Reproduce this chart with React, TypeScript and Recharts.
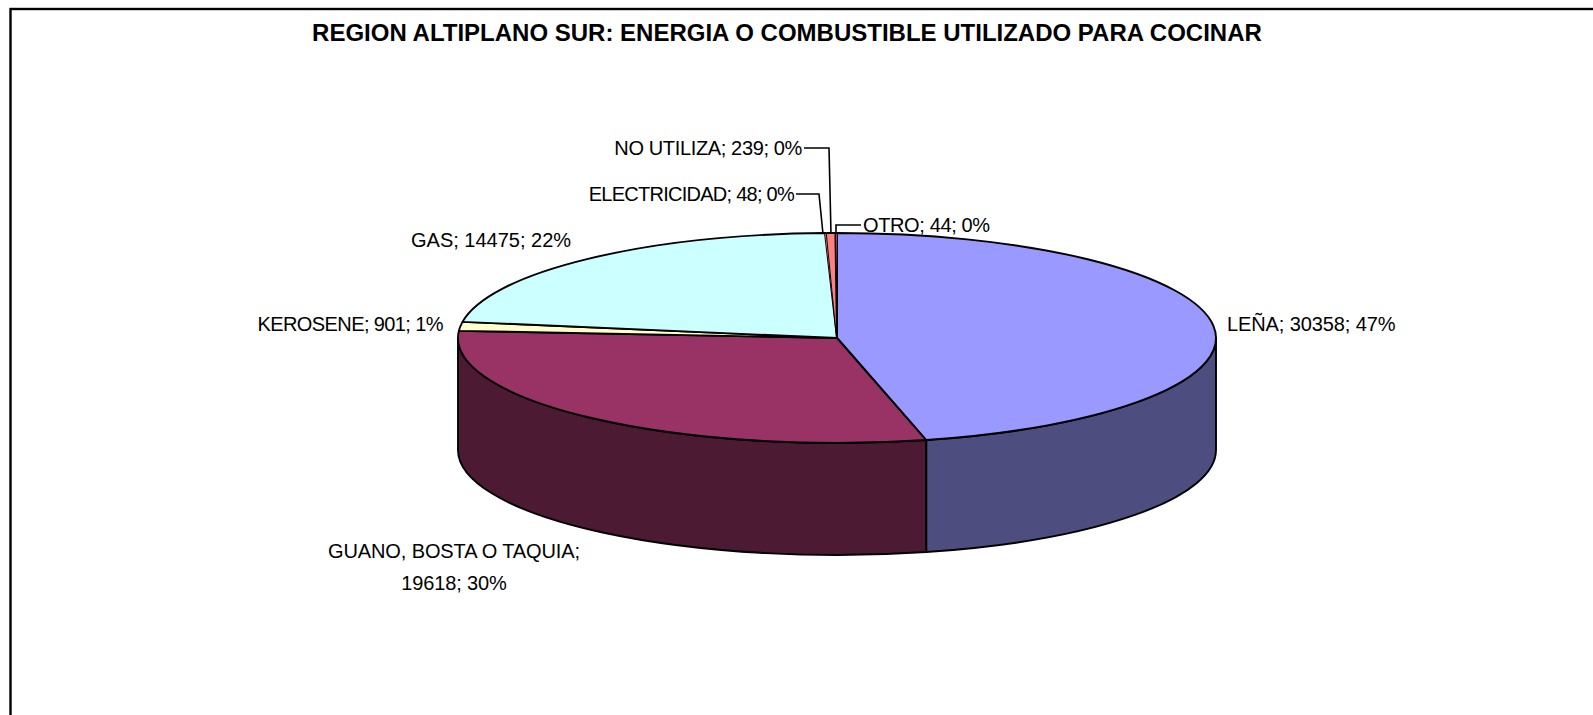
import React from "react";
import { PieChart, Pie } from "recharts";

const categories = ["LEÑA", "GUANO, BOSTA O TAQUIA", "KEROSENE", "GAS", "ELECTRICIDAD", "NO UTILIZA", "OTRO"];
const households = [30358, 19618, 901, 14475, 48, 239, 44];
const percentLabels = [47, 30, 1, 22, 0, 0, 0];
const topColors = ["#9999FF", "#993366", "#FFFFCC", "#CCFFFF", "#FF8080", "#FF8080", "#FF8080"];
const sideColors = ["#4D4D80", "#4D1A33", "#80805F", "#668080", "#804040", "#804040", "#804040"];
const title = "REGION ALTIPLANO SUR: ENERGIA O COMBUSTIBLE UTILIZADO PARA COCINAR";

const data = categories.map((name, i) => ({
  name,
  value: households[i],
  pct: percentLabels[i],
  top: topColors[i],
  side: sideColors[i],
  index: i,
}));

const W = 1593;
const H = 715;
const CX = 837;
const CY = 338;
const R = 379;
const TILT = 105 / 379;
const DEPTH = 112;
const LINE = 1.9;
const FONT = "'Liberation Sans', Arial, sans-serif";

const px = (cx: number, r: number, a: number) => cx + r * Math.cos((a * Math.PI) / 180);
const py = (cy: number, r: number, a: number) => cy - r * TILT * Math.sin((a * Math.PI) / 180);

// the three thinnest slices read as one wedge: only its outer rim and outer edges are stroked
const wedgeEdge: Record<string, "hi" | "lo" | "none"> = { ELECTRICIDAD: "lo", "NO UTILIZA": "none", OTRO: "hi" };

function TopSlice(p: any) {
  const { cx, cy, outerRadius: r, startAngle, endAngle, payload } = p;
  const hi = Math.max(startAngle, endAngle);
  const lo = Math.min(startAngle, endAngle);
  const large = hi - lo > 180 ? 1 : 0;
  const a = `${px(cx, r, hi)},${py(cy, r, hi)}`;
  const b = `${px(cx, r, lo)},${py(cy, r, lo)}`;
  const arc = `A${r},${r * TILT} 0 ${large} 1 ${b}`;
  const d = `M${cx},${cy}L${a}${arc}Z`;
  const fill = payload?.top ?? p.top;
  const edge = wedgeEdge[payload?.name ?? p.name];
  if (edge) {
    return (
      <g>
        <path d={d} fill={fill} stroke="none" />
        <path d={`M${a}${arc}`} fill="none" stroke="#000" strokeWidth={LINE} />
        {edge !== "none" && (
          <path
            d={`M${cx},${cy}L${edge === "hi" ? a : b}`}
            fill="none"
            stroke="#000"
            strokeWidth={LINE}
          />
        )}
      </g>
    );
  }
  return <path d={d} fill={fill} stroke="#000" strokeWidth={LINE} strokeLinejoin="round" />;
}

function SideSlice(p: any) {
  const { cx, cy, outerRadius: r, startAngle, endAngle, payload } = p;
  const hi = Math.min(Math.max(startAngle, endAngle), 0);
  const lo = Math.max(Math.min(startAngle, endAngle), -180);
  if (hi <= lo) return <g />;
  const x1 = px(cx, r, hi);
  const y1 = py(cy, r, hi);
  const x2 = px(cx, r, lo);
  const y2 = py(cy, r, lo);
  const d = `M${x1},${y1}A${r},${r * TILT} 0 0 1 ${x2},${y2}L${x2},${y2 + DEPTH}A${r},${r * TILT} 0 0 0 ${x1},${y1 + DEPTH}Z`;
  const fill = payload?.side ?? p.side;
  return <path d={d} fill={fill} stroke="#000" strokeWidth={LINE} strokeLinejoin="round" />;
}

type Place = {
  x: number;
  y: number;
  anchor: "start" | "middle" | "end";
  spacing: number;
  lines?: string[];
  leader?: number[][];
};
const labelPlaces: Place[] = [
  { x: 1227, y: 324, anchor: "start", spacing: -0.1 },
  { x: 454, y: 551, anchor: "middle", spacing: -0.12, lines: ["GUANO, BOSTA O TAQUIA;", "19618; 30%"] },
  { x: 443, y: 324, anchor: "end", spacing: -0.6 },
  { x: 411, y: 240, anchor: "start", spacing: 0 },
  { x: 794, y: 194, anchor: "end", spacing: -0.74, leader: [[796, 194], [819, 194], [823, 234]] },
  { x: 802, y: 148, anchor: "end", spacing: -0.36, leader: [[804, 148], [829, 148], [831, 234]] },
  { x: 863, y: 225, anchor: "start", spacing: -0.37, leader: [[861, 225], [836, 225], [836, 234]] },
];

function renderLabel(p: any) {
  const place = labelPlaces[p.index];
  const row = data[p.index];
  const lines = place.lines ?? [`${row.name}; ${row.value}; ${row.pct}%`];
  return (
    <g key={row.name}>
      {place.leader && (
        <polyline
          points={place.leader.map((q) => q.join(",")).join(" ")}
          fill="none"
          stroke="#000"
          strokeWidth={1.6}
        />
      )}
      {lines.map((t, i) => (
        <text
          key={t}
          x={place.x}
          y={place.y + i * 32}
          textAnchor={place.anchor}
          dominantBaseline="central"
          fontFamily={FONT}
          fontSize={20}
          letterSpacing={place.spacing}
          fill="#000"
        >
          {t}
        </text>
      ))}
    </g>
  );
}

export default function App() {
  return (
    <div style={{ position: "absolute", left: 0, top: 0, width: W, height: H, overflow: "hidden", background: "#fff" }}>
      <PieChart width={W} height={H} margin={{ top: 0, right: 0, bottom: 0, left: 0 }}>
        <rect x={10.5} y={9} width={W + 20} height={H + 20} fill="#fff" stroke="#000" strokeWidth={2.4} />
        <text
          x={787}
          y={32}
          textAnchor="middle"
          dominantBaseline="central"
          fontFamily={FONT}
          fontSize={24}
          fontWeight="bold"
          fill="#000"
        >
          {title}
        </text>
        <Pie
          data={data}
          dataKey="value"
          nameKey="name"
          cx={CX}
          cy={CY}
          outerRadius={R}
          startAngle={90}
          endAngle={-270}
          paddingAngle={0}
          isAnimationActive={false}
          shape={SideSlice}
          label={false}
          labelLine={false}
          stroke="none"
        />
        <Pie
          data={data}
          dataKey="value"
          nameKey="name"
          cx={CX}
          cy={CY}
          outerRadius={R}
          startAngle={90}
          endAngle={-270}
          paddingAngle={0}
          isAnimationActive={false}
          shape={TopSlice}
          label={renderLabel}
          labelLine={false}
          stroke="none"
        />
      </PieChart>
    </div>
  );
}
